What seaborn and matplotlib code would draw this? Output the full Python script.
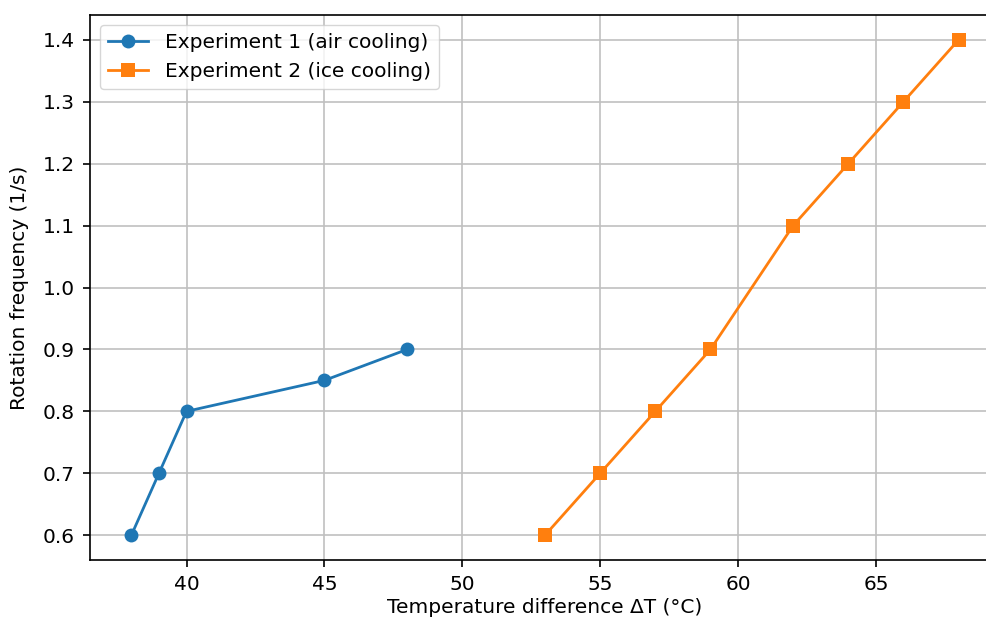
import matplotlib
matplotlib.use("Agg")
import matplotlib.pyplot as plt
import seaborn as sns
import pandas as pd

exp1_dt = [38, 39, 40, 45, 48]
exp1_freq = [0.6, 0.7, 0.8, 0.85, 0.9]
exp2_dt = [53, 55, 57, 59, 62, 64, 66, 68]
exp2_freq = [0.6, 0.7, 0.8, 0.9, 1.1, 1.2, 1.3, 1.4]
labels = ["Experiment 1 (air cooling)", "Experiment 2 (ice cooling)"]

df1 = pd.DataFrame({"dt": exp1_dt, "f": exp1_freq})
df2 = pd.DataFrame({"dt": exp2_dt, "f": exp2_freq})

plt.rcParams['font.family'] = ['DejaVu Sans']
fs = 14.5
fig = plt.figure(figsize=(9.87, 6.19), dpi=100)
W, H = 987, 619
ax = fig.add_axes([90 / W, 1 - 560 / H, (1000 - 90) / W, (560 - 15) / H])

sns.lineplot(data=df1, x="dt", y="f", ax=ax, marker="o", markersize=10,
             color="#1f77b4", linewidth=2.0, label=labels[0], markeredgewidth=0)
sns.lineplot(data=df2, x="dt", y="f", ax=ax, marker="s", markersize=9.5,
             color="#ff7f0e", linewidth=2.0, label=labels[1], markeredgewidth=0)

ax.set_xlim(36.5, 69.5)
ax.set_ylim(0.56, 1.44)
ax.set_xticks([40, 45, 50, 55, 60, 65])
yt = [0.6, 0.7, 0.8, 0.9, 1.0, 1.1, 1.2, 1.3, 1.4]
ax.set_yticks(yt)
ax.set_yticklabels([f"{v:.1f}" for v in yt])
ax.grid(True, color="#c0c0c0", linewidth=1.2)
ax.tick_params(labelsize=fs, length=5, width=1.2, pad=6)
for s in ax.spines.values():
    s.set_linewidth(1.2)
ax.set_xlabel("Temperature difference ΔT (°C)", fontsize=fs, labelpad=3)
ax.set_ylabel("Rotation frequency (1/s)", fontsize=fs, labelpad=10)
ax.legend(loc="upper left", fontsize=fs)

fig.savefig("out.png", dpi=100)
